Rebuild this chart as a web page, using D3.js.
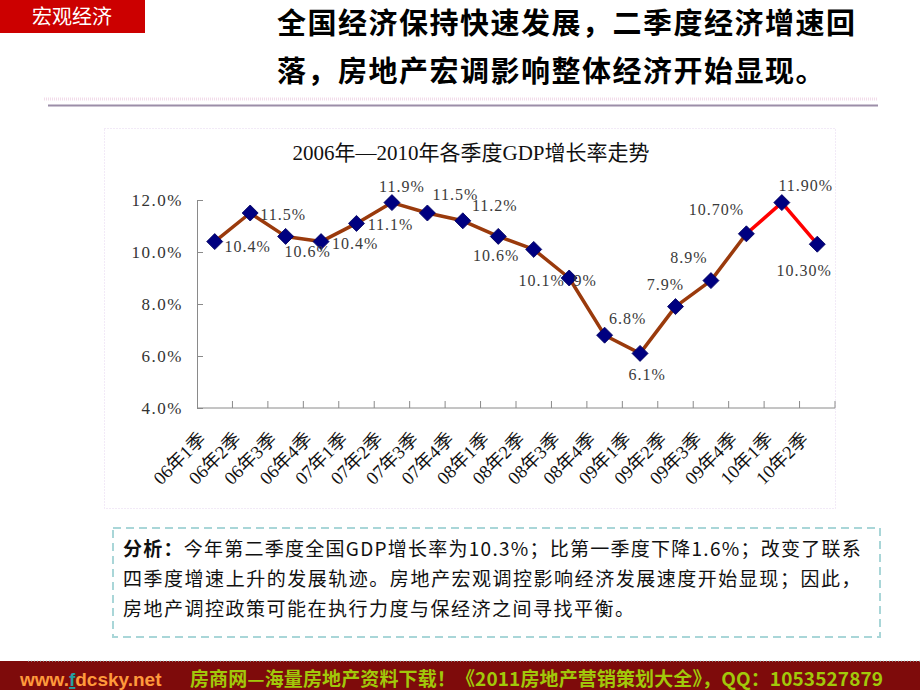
<!DOCTYPE html>
<html>
<head>
<meta charset="utf-8">
<script src="https://cdn.jsdelivr.net/npm/d3@7"></script>
<style>
  body { margin: 0; background: #fff; }
  svg { display: block; }
</style>
</head>
<body>
<svg id="slide" width="920" height="690"></svg>
<script>
// chart data
const quarters = ["06年1季", "06年2季", "06年3季", "06年4季", "07年1季", "07年2季", "07年3季", "07年4季",
    "08年1季", "08年2季", "08年3季", "08年4季", "09年1季", "09年2季", "09年3季", "09年4季", "10年1季", "10年2季"];
const gdp = [10.4, 11.5, 10.6, 10.4, 11.1, 11.9, 11.5, 11.2, 10.6, 10.1, 9.0, 6.8, 6.1, 7.9, 8.9, 10.7, 11.9, 10.3];
const valueLabels = ["10.4%", "11.5%", "10.6%", "10.4%", "11.1%", "11.9%", "11.5%", "11.2%", "10.6%", "10.1%",
    "9%", "6.8%", "6.1%", "7.9%", "8.9%", "10.70%", "11.90%", "10.30%"];
const yTicks = [4, 6, 8, 10, 12];
const highlightFrom = 15; // from 09年4季 the line is red

// where each data label sits relative to its marker (dx, dy)
const labelOffsets = [[33, 5], [33, 1], [22, 15], [34, 2], [34, 1], [10, -16], [28, -19], [32, -15], [-2, 19],
    [8, 31], [16, 2], [23, -17], [7, 21], [-10, -22], [-22, -23], [-30, -24], [24, -17], [-13, 26]];

const headTag = "宏观经济";
const headLines = ["全国经济保持快速发展，二季度经济增速回", "落，房地产宏调影响整体经济开始显现。"];
const chartTitle = "2006年—2010年各季度GDP增长率走势";
const noteLines = [
    ["分析：", "今年第二季度全国GDP增长率为10.3%；比第一季度下降1.6%；改变了联系"],
    ["", "四季度增速上升的发展轨迹。房地产宏观调控影响经济发展速度开始显现；因此，"],
    ["", "房地产调控政策可能在执行力度与保经济之间寻找平衡。"]
];
const footerUrl = ["www.", "f", "dcsky.net"];
const footerText = "房商网—海量房地产资料下载！《2011房地产营销策划大全》，QQ：1053527879";

const svg = d3.select("#slide");
const sans = "'Noto Sans CJK SC', 'Noto Sans', sans-serif";
const serif = "'Liberation Serif', 'DejaVu Serif', 'Noto Sans CJK SC', serif";

// ---- header ----
svg.append("rect").attr("x", 0).attr("y", 0).attr("width", 145).attr("height", 33).attr("fill", "#cc0000");
svg.append("text")
    .attr("x", 72).attr("y", 24)
    .attr("text-anchor", "middle")
    .attr("fill", "#fff")
    .style("font-family", sans)
    .style("font-size", "20px")
    .text(headTag);

svg.selectAll(".head")
    .data(headLines)
    .join("text")
    .attr("class", "head")
    .attr("x", 277)
    .attr("y", (d, i) => 34 + i * 48)
    .attr("fill", "#000")
    .style("font-family", sans)
    .style("font-weight", "bold")
    .style("font-size", "29px")
    .style("letter-spacing", "1.5px")
    .text(d => d);

svg.append("line").attr("x1", 44).attr("x2", 878).attr("y1", 99).attr("y2", 99)
    .attr("stroke", "#f2dcea").attr("stroke-width", 3).attr("stroke-dasharray", "1,1");
svg.append("line").attr("x1", 48).attr("x2", 878).attr("y1", 105.5).attr("y2", 105.5)
    .attr("stroke", "#9c8ea8").attr("stroke-width", 2);

// ---- chart frame ----
svg.append("rect")
    .attr("x", 104.5).attr("y", 128.5).attr("width", 731).attr("height", 380)
    .attr("fill", "none").attr("stroke", "#e4d4ee").attr("stroke-dasharray", "1,2");

svg.append("text")
    .attr("x", 471).attr("y", 160)
    .attr("text-anchor", "middle")
    .attr("fill", "#111")
    .style("font-family", serif)
    .style("font-size", "21px")
    .text(chartTitle);

const x = d3.scaleBand().domain(quarters).range([197, 835]);
const y = d3.scaleLinear().domain([4, 12]).range([408, 200]);
const axisColor = "#8a8a8a";

const yAxis = svg.append("g")
    .attr("transform", `translate(${x.range()[0]},0)`)
    .call(d3.axisLeft(y).tickValues(yTicks).tickSizeInner(-6).tickSizeOuter(0).tickPadding(14)
        .tickFormat(d => d.toFixed(1) + "%"));
yAxis.select(".domain").attr("stroke", axisColor);
yAxis.selectAll(".tick line").attr("stroke", axisColor);
yAxis.selectAll(".tick text")
    .attr("fill", "#333")
    .style("font-family", serif)
    .style("font-size", "17px")
    .style("letter-spacing", "1.5px");

// category axis with ticks between categories
const xAxis = svg.append("g");
xAxis.append("line")
    .attr("x1", x.range()[0]).attr("x2", x.range()[1])
    .attr("y1", y(4)).attr("y2", y(4))
    .attr("stroke", axisColor);
xAxis.selectAll(".xt")
    .data(quarters.slice(1).map(q => x(q)).concat([x.range()[1]]))
    .join("line")
    .attr("class", "xt")
    .attr("x1", d => d).attr("x2", d => d)
    .attr("y1", y(4)).attr("y2", y(4) - 7)
    .attr("stroke", axisColor);
xAxis.selectAll(".xl")
    .data(quarters)
    .join("text")
    .attr("class", "xl")
    .attr("transform", d => `translate(${x(d) + x.bandwidth() / 2 - 8},440) rotate(-45)`)
    .attr("text-anchor", "end")
    .attr("fill", "#111")
    .style("font-family", serif)
    .style("font-size", "18.5px")
    .text(d => d);

// ---- line ----
const pts = gdp.map((v, i) => ({ q: quarters[i], v, i }));
const line = d3.line().x(d => x(d.q) + x.bandwidth() / 2).y(d => y(d.v));

svg.append("path")
    .datum(pts.slice(0, highlightFrom + 1))
    .attr("d", line)
    .attr("fill", "none")
    .attr("stroke", "#9a3a0c")
    .attr("stroke-width", 3.5)
    .attr("stroke-linejoin", "round");
svg.append("path")
    .datum(pts.slice(highlightFrom))
    .attr("d", line)
    .attr("fill", "none")
    .attr("stroke", "#ff0000")
    .attr("stroke-width", 3.5)
    .attr("stroke-linejoin", "round");

svg.selectAll(".mk")
    .data(pts)
    .join("path")
    .attr("class", "mk")
    .attr("d", d3.symbol(d3.symbolSquare, 128))
    .attr("transform", d => `translate(${x(d.q) + x.bandwidth() / 2},${y(d.v)}) rotate(45)`)
    .attr("fill", "#000080")
    .attr("stroke", "#000060")
    .attr("stroke-width", 0.8);

svg.selectAll(".vl")
    .data(pts)
    .join("text")
    .attr("class", "vl")
    .attr("x", d => x(d.q) + x.bandwidth() / 2 + labelOffsets[d.i][0])
    .attr("y", d => y(d.v) + labelOffsets[d.i][1])
    .attr("dy", "0.35em")
    .attr("text-anchor", "middle")
    .attr("fill", "#3a3a3a")
    .style("font-family", serif)
    .style("font-size", "16px")
    .style("letter-spacing", "1px")
    .text(d => valueLabels[d.i]);

// ---- analysis box ----
svg.append("rect")
    .attr("x", 113).attr("y", 528).attr("width", 767).attr("height", 109)
    .attr("fill", "none").attr("stroke", "#a9d6d8").attr("stroke-width", 2)
    .attr("stroke-dasharray", "8,5");

const note = svg.selectAll(".note")
    .data(noteLines)
    .join("text")
    .attr("class", "note")
    .attr("x", 123)
    .attr("y", (d, i) => 556 + i * 30)
    .attr("fill", "#111")
    .style("font-family", sans)
    .style("font-size", "19px");
note.append("tspan").style("font-weight", "bold").text(d => d[0]);
note.append("tspan").text(d => d[1]);
// first two lines are justified so their right edge sits at x = 862
note.each(function (d, i) {
    const el = d3.select(this);
    if (i < 2) {
        const n = (d[0] + d[1]).length;
        let ls = 0;
        for (let k = 0; k < 3; k++) {
            el.style("letter-spacing", ls + "px");
            const b = this.getBBox();
            ls += (862 - (b.x + b.width)) / n;
        }
        el.style("letter-spacing", ls + "px");
    } else {
        el.style("letter-spacing", "1.5px");
    }
});

// ---- footer ----
svg.append("rect").attr("x", 0).attr("y", 661).attr("width", 920).attr("height", 29).attr("fill", "#7e0b0b");
svg.append("line").attr("x1", 28).attr("x2", 920).attr("y1", 661).attr("y2", 661)
    .attr("stroke", "#a9d6d8").attr("stroke-dasharray", "1,2");

const url = svg.append("text")
    .attr("x", 20).attr("y", 686)
    .style("font-family", "'Liberation Sans', Arial, sans-serif")
    .style("font-weight", "bold")
    .style("font-size", "19px");
url.selectAll("tspan")
    .data(footerUrl)
    .join("tspan")
    .attr("fill", (d, i) => i === 1 ? "#23a0a0" : "#ff9a3c")
    .style("text-decoration", (d, i) => i === 1 ? "underline" : null)
    .text(d => d);

svg.append("text")
    .attr("x", 190).attr("y", 686)
    .attr("textLength", 693).attr("lengthAdjust", "spacing")
    .attr("fill", "#a2c80a")
    .style("font-family", sans)
    .style("font-weight", "bold")
    .style("font-size", "19px")
    .text(footerText);
</script>
</body>
</html>
